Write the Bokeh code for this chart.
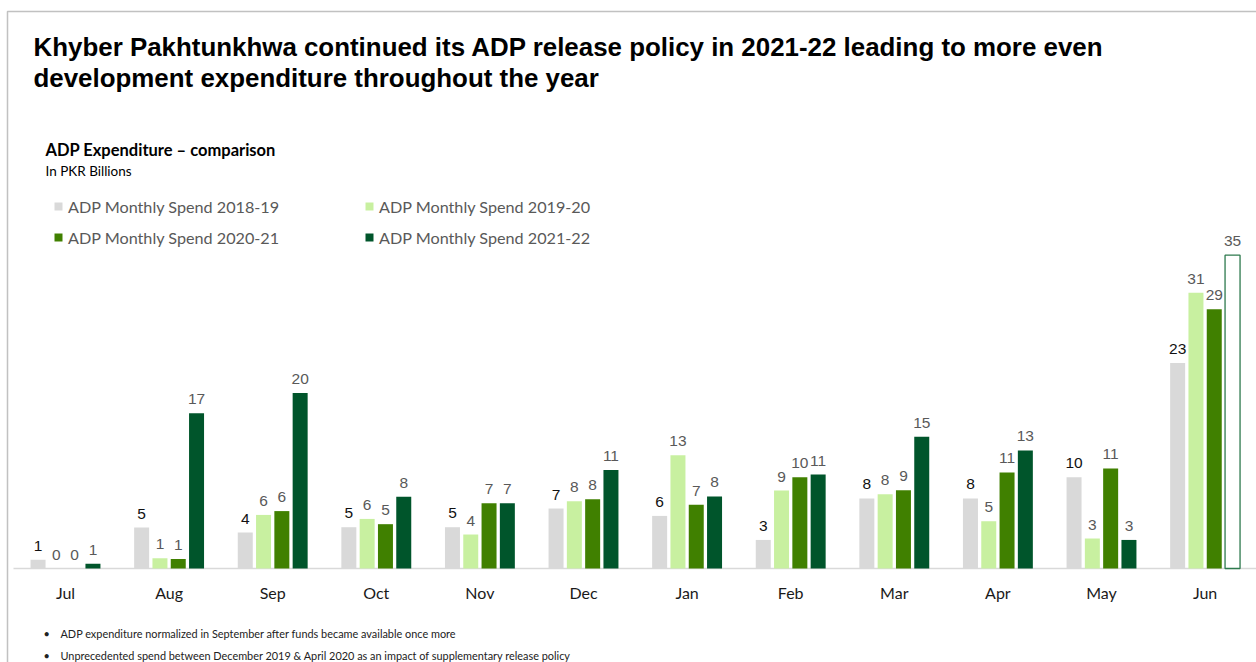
from bokeh.plotting import figure
from bokeh.models import (Range1d, Label, Legend, LegendItem,
                          BoxAnnotation, ColumnDataSource)
from bokeh.core.properties import value
from bokeh.embed import file_html
from bokeh.resources import INLINE

# ---------------- data ----------------
months = ["Jul", "Aug", "Sep", "Oct", "Nov", "Dec",
          "Jan", "Feb", "Mar", "Apr", "May", "Jun"]
series_names = ["ADP Monthly Spend 2018-19", "ADP Monthly Spend 2019-20",
                "ADP Monthly Spend 2020-21", "ADP Monthly Spend 2021-22"]
spend_2018_19 = [0.97, 4.6, 4.04, 4.64, 4.64, 6.74, 5.91, 3.21, 7.87, 7.87, 10.26, 23.1]
spend_2019_20 = [0.0, 1.16, 6.02, 5.57, 3.82, 7.56, 12.73, 8.76, 8.35, 5.31, 3.37, 30.97]
spend_2020_21 = [0.0, 1.08, 6.45, 4.98, 7.34, 7.79, 7.15, 10.26, 8.8, 10.79, 11.24, 29.13]
spend_2021_22 = [0.52, 17.45, 19.73, 8.05, 7.34, 11.08, 8.09, 10.56, 14.79, 13.26, 3.21, 35.2]
all_series = [spend_2018_19, spend_2019_20, spend_2020_21, spend_2021_22]

title_lines = ["Khyber Pakhtunkhwa continued its ADP release policy in 2021-22 leading to more even",
               "development expenditure throughout the year"]
subtitle = "ADP Expenditure \u2013 comparison"
unit_text = "In PKR Billions"
footnotes = ["ADP expenditure normalized in September after funds became available once more",
             "Unprecedented spend between December 2019 & April 2020 as an impact of supplementary release policy"]

colors = ["#D9D9D9", "#C8F0A0", "#408000", "#00552B"]
label_colors = ["#111111", "#595959", "#595959", "#595959"]

# ---------------- geometry ----------------
W, H = 1256, 662
BASE_Y = 568          # pixel row of the zero line
PX_MONTH = 103.6
PX_UNIT = 8.9
BAR_W = 15 / PX_MONTH
STEP = 18.3 / PX_MONTH
offsets = [-1.5 * STEP, -0.5 * STEP, 0.5 * STEP, 1.5 * STEP]

x0 = -65 / PX_MONTH
x1 = x0 + W / PX_MONTH
y0 = -(H - BASE_Y) / PX_UNIT
y1 = BASE_Y / PX_UNIT

p = figure(width=W, height=H, x_range=Range1d(x0, x1), y_range=Range1d(y0, y1),
           output_backend="svg", toolbar_location=None,
           x_axis_location=None, y_axis_location=None,
           min_border=0, min_border_left=0, min_border_right=0,
           min_border_top=0, min_border_bottom=0)
p.outline_line_color = None
p.xgrid.visible = False
p.ygrid.visible = False
p.background_fill_color = "white"
p.border_fill_color = "white"

# category baseline (axis line)
p.segment(x0=[x0 + 13 / PX_MONTH], x1=[x1], y0=[0], y1=[0],
          line_color="#D9D9D9", line_width=1.5)

renderers = []
for k, vals in enumerate(all_series):
    xs = [i + offsets[k] for i in range(len(months))]
    fills = [colors[k]] * len(vals)
    line_alpha = [0.0] * len(vals)
    line_cols = [colors[k]] * len(vals)
    if k == 3:
        fills[-1] = "white"
        line_alpha[-1] = 1.0
        line_cols[-1] = "#2E7A4E"
    src = ColumnDataSource(dict(x=xs, top=vals, fill=fills, la=line_alpha, lc=line_cols,
                                lab=[f"{v:.0f}" for v in vals]))
    r = p.vbar(x="x", top="top", width=BAR_W, bottom=0, source=src,
               fill_color="fill", line_color="lc", line_alpha="la", line_width=1.3)
    renderers.append(r)
    p.text(x="x", y="top", text="lab", source=src, text_align="center",
           text_baseline="middle", y_offset=-14,
           text_font=value("Liberation Sans"), text_font_size="15.5px",
           text_color=label_colors[k])

# month labels under the baseline
p.text(x=list(range(len(months))), y=[0] * len(months), text=months,
       text_align="center", text_baseline="middle", y_offset=24,
       text_font=value("Lato"), text_font_size="16px", text_color="#1a1a1a")

# legend (row-wise order as in the reference)
order = [0, 2, 1, 3]
items = [LegendItem(label=series_names[k], renderers=[renderers[k]], index=0) for k in order]
legend = Legend(items=items, ncols=2, location=(53, H - 247),
                glyph_width=10, glyph_height=10, label_standoff=5,
                label_width=285, label_height=20, spacing=11, padding=0, margin=0,
                label_text_font="Lato", label_text_font_size="16.2px",
                label_text_color="#595959", border_line_color=None,
                background_fill_alpha=0)
p.add_layout(legend)


def add_text(text, x, y, size, color="#000000", font="Lato", style="normal"):
    p.add_layout(Label(x=x, y=H - y, x_units="screen", y_units="screen",
                       text=text, text_font=font, text_font_size=size,
                       text_color=color, text_font_style=style,
                       text_baseline="middle", text_align="left"))


add_text(title_lines[0], 33, 46, "25.9px", "#000000", "Liberation Sans", "bold")
add_text(title_lines[1], 33, 77, "25.9px", "#000000", "Liberation Sans", "bold")
add_text(subtitle, 45, 149, "16.5px", "#000000", "Lato", "bold")
add_text(unit_text, 45, 170, "13.5px", "#000000", "Lato")
for j, note in enumerate(footnotes):
    y = 633 + 22 * j
    add_text("\u2022", 43, y, "10.9px", "#222222", "Lato")
    add_text(note, 60, y, "10.9px", "#222222", "Lato")

# slide frame
p.add_layout(BoxAnnotation(left=7, right=W + 50, top=H - 11, bottom=-50,
                           left_units="screen", right_units="screen",
                           top_units="screen", bottom_units="screen",
                           fill_alpha=0, line_color="#333333", line_width=1.5))

open("out.html", "w").write(file_html(p, INLINE))
